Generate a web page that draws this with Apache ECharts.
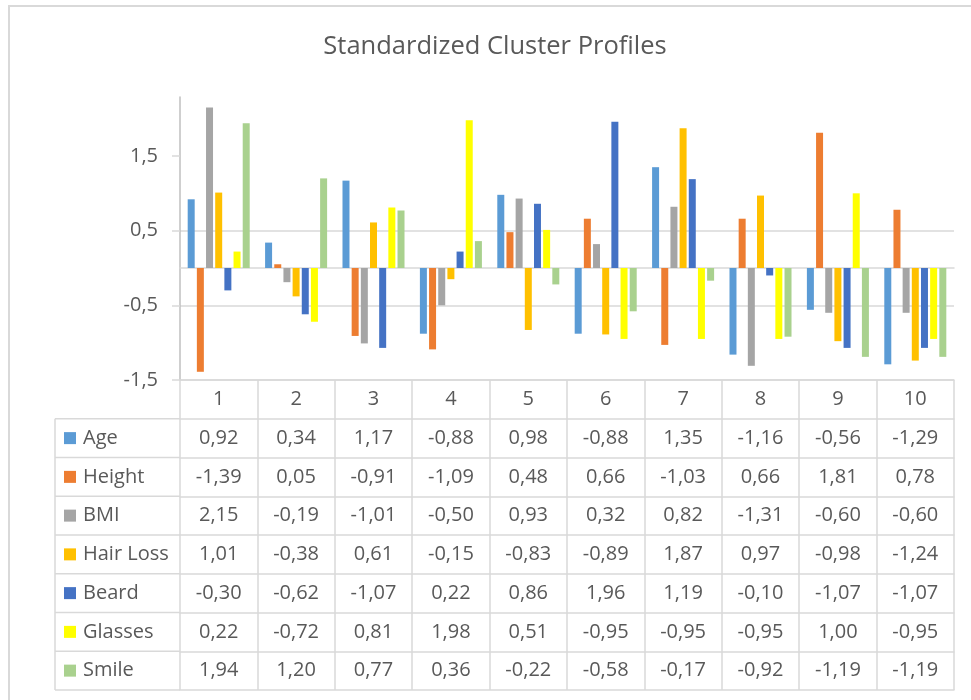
<!DOCTYPE html>
<html>
<head>
<meta charset="utf-8">
<script src="https://cdn.jsdelivr.net/npm/echarts@6/dist/echarts.min.js"></script>
<style>
  html, body { margin: 0; padding: 0; background: #fff; }
  #chart { width: 971px; height: 700px; }
</style>
</head>
<body>
<div id="chart"></div>
<script>
/* ---------- data ---------- */
const clusters = ['1', '2', '3', '4', '5', '6', '7', '8', '9', '10']
const seriesNames = ['Age', 'Height', 'BMI', 'Hair Loss', 'Beard', 'Glasses', 'Smile']
const age = [0.92, 0.34, 1.17, -0.88, 0.98, -0.88, 1.35, -1.16, -0.56, -1.29]
const heightVals = [-1.39, 0.05, -0.91, -1.09, 0.48, 0.66, -1.03, 0.66, 1.81, 0.78]
const bmi = [2.15, -0.19, -1.01, -0.50, 0.93, 0.32, 0.82, -1.31, -0.60, -0.60]
const hairLoss = [1.01, -0.38, 0.61, -0.15, -0.83, -0.89, 1.87, 0.97, -0.98, -1.24]
const beard = [-0.30, -0.62, -1.07, 0.22, 0.86, 1.96, 1.19, -0.10, -1.07, -1.07]
const glasses = [0.22, -0.72, 0.81, 1.98, 0.51, -0.95, -0.95, -0.95, 1.00, -0.95]
const smile = [1.94, 1.20, 0.77, 0.36, -0.22, -0.58, -0.17, -0.92, -1.19, -1.19]
const yTicks = [-1.5, -0.5, 0.5, 1.5]

const allValues = [age, heightVals, bmi, hairLoss, beard, glasses, smile]

/* ---------- style ---------- */
const colors = ['#5b9bd5', '#ed7d31', '#a5a5a5', '#ffc000', '#4472c4', '#ffff00', '#a9d18e']
const font = '"Open Sans", "Noto Sans", sans-serif'
const textColor = '#595959'
const lineColor = '#d9d9d9'

const gridLeft = 180
const gridRight = 17
const gridTop = 97
const plotBottom = 380
const rowH = 38.75
const tableLeft = 55

const fmt = (v) => v.toFixed(2).replace('.', ',')

// one category axis per table row, stacked under the plot
function tableAxis(labels, offset, showLabel, showTick) {
  return {
    type: 'category',
    gridIndex: 0,
    position: 'bottom',
    offset: offset,
    data: labels,
    axisLine: { show: true, onZero: false, lineStyle: { color: lineColor, width: 1.5 } },
    axisTick: {
      show: showTick,
      interval: 0,
      alignWithLabel: false,
      length: rowH,
      lineStyle: { color: lineColor, width: 1.5 }
    },
    axisLabel: {
      show: showLabel,
      interval: 0,
      margin: rowH / 2,
      verticalAlign: 'middle',
      fontSize: 20,
      fontFamily: font,
      color: textColor
    },
    splitLine: { show: false }
  }
}

const xAxes = [
  {
    type: 'category',
    gridIndex: 0,
    position: 'bottom',
    data: clusters,
    axisLine: { show: true, onZero: true, lineStyle: { color: lineColor, width: 1.5 } },
    axisTick: { show: false },
    axisLabel: { show: false },
    splitLine: { show: false }
  },
  tableAxis(clusters, 0, true, true)
]
allValues.forEach((vals, i) => {
  xAxes.push(tableAxis(vals.map(fmt), rowH * (i + 1), true, true))
})
xAxes.push(tableAxis(clusters, rowH * 8, false, false))

// left column of the data table (series names)
const tableLines = []
for (let k = 1; k <= 8; k++) {
  const y = plotBottom + rowH * k
  tableLines.push({
    type: 'line',
    shape: { x1: tableLeft, y1: y, x2: gridLeft, y2: y },
    style: { stroke: lineColor, lineWidth: 1.5 }
  })
}
tableLines.push({
  type: 'line',
  shape: { x1: tableLeft, y1: plotBottom + rowH, x2: tableLeft, y2: plotBottom + rowH * 8 },
  style: { stroke: lineColor, lineWidth: 1.5 }
})
tableLines.push({
  type: 'rect',
  shape: { x: 9, y: 6, width: 1000, height: 800 },
  style: { fill: 'none', stroke: lineColor, lineWidth: 2 }
})

const chart = echarts.init(document.getElementById('chart'))
chart.setOption({
  animation: false,
  backgroundColor: '#fff',
  title: {
    text: 'Standardized Cluster Profiles',
    left: 490,
    textAlign: 'center',
    top: 29,
    textStyle: { fontSize: 25.5, fontWeight: 'normal', fontFamily: font, color: textColor }
  },
  legend: {
    data: seriesNames,
    orient: 'vertical',
    left: 64,
    top: plotBottom + rowH + (rowH - 20) / 2,
    padding: 0,
    itemWidth: 12,
    itemHeight: 12,
    itemGap: rowH - 20,
    icon: 'rect',
    textStyle: { fontSize: 20, lineHeight: 20, fontFamily: font, color: textColor, padding: [0, 0, 0, 2] }
  },
  grid: {
    left: gridLeft,
    right: gridRight,
    top: gridTop,
    bottom: 700 - plotBottom,
    containLabel: false,
    outerBoundsMode: 'none'
  },
  xAxis: xAxes,
  yAxis: {
    type: 'value',
    min: -1.5,
    max: 2.29,
    interval: 1,
    axisLine: { show: true, lineStyle: { color: '#bfbfbf', width: 1.5 } },
    axisTick: { show: true, length: 8, customValues: yTicks, lineStyle: { color: lineColor, width: 1.5 } },
    axisLabel: {
      customValues: yTicks,
      margin: 22,
      fontSize: 20,
      fontFamily: font,
      color: textColor,
      formatter: (v) => String(v).replace('.', ',')
    },
    splitLine: { show: true, showMaxLine: false, lineStyle: { color: lineColor, width: 1.5 } }
  },
  graphic: tableLines,
  series: seriesNames.map((name, i) => ({
    name: name,
    type: 'bar',
    xAxisIndex: 0,
    yAxisIndex: 0,
    barWidth: 7,
    barGap: '31%',
    itemStyle: { color: colors[i] },
    data: allValues[i]
  }))
})
</script>
</body>
</html>
